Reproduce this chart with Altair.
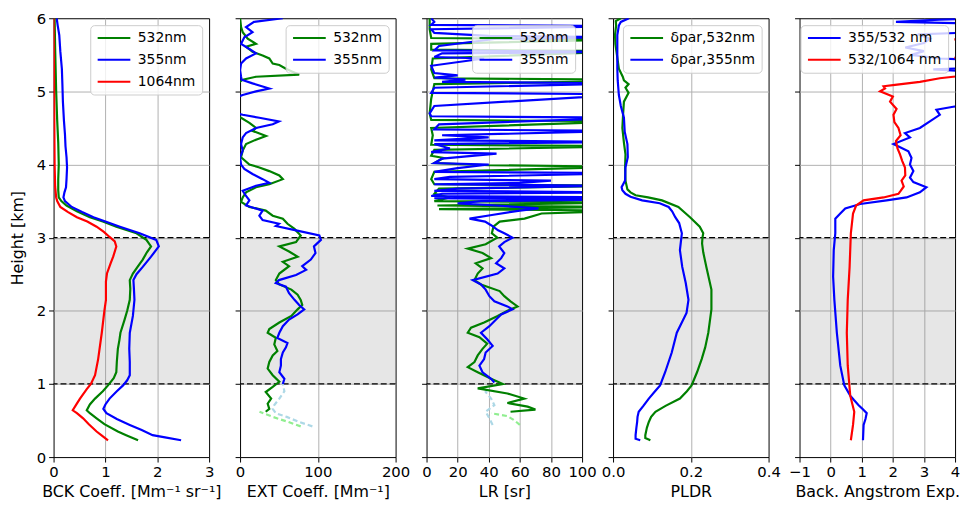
import altair as alt
import pandas as pd

FONT = "DejaVu Sans"

# ---------------- Panel 1: backscatter coefficient ----------------
bck532_h = [0.23, 0.30, 0.35, 0.45, 0.53, 0.60, 0.64, 0.72, 0.80, 0.90, 0.98, 1.08, 1.16, 1.30, 1.48, 1.60, 1.70, 1.88, 2.00, 2.15, 2.30, 2.42, 2.51, 2.60, 2.70, 2.80, 2.88, 2.97, 3.06, 3.15, 3.22, 3.28, 3.36, 3.44, 3.50, 3.55, 3.65, 3.80, 4.00, 4.30, 4.60, 5.00, 5.30, 5.60, 6.00]
bck532_v = [1.63, 1.40, 1.24, 0.98, 0.83, 0.70, 0.64, 0.70, 0.80, 0.95, 1.05, 1.16, 1.21, 1.22, 1.24, 1.27, 1.29, 1.37, 1.42, 1.47, 1.48, 1.47, 1.53, 1.62, 1.72, 1.80, 1.88, 1.79, 1.60, 1.21, 0.95, 0.70, 0.45, 0.25, 0.15, 0.10, 0.09, 0.09, 0.10, 0.09, 0.07, 0.05, 0.04, 0.03, 0.02]
bck355_h = [0.23, 0.27, 0.30, 0.37, 0.44, 0.52, 0.60, 0.66, 0.72, 0.80, 0.90, 0.98, 1.05, 1.12, 1.30, 1.48, 1.70, 1.93, 2.15, 2.30, 2.42, 2.50, 2.60, 2.74, 2.88, 2.97, 3.06, 3.15, 3.22, 3.28, 3.35, 3.42, 3.50, 3.55, 3.62, 3.69, 3.80, 3.96, 4.10, 4.25, 4.41, 4.60, 4.86, 5.10, 5.31, 5.55, 5.77, 5.90, 6.00]
bck355_v = [2.46, 2.15, 1.91, 1.70, 1.47, 1.22, 1.02, 0.96, 1.00, 1.08, 1.22, 1.34, 1.42, 1.47, 1.47, 1.46, 1.47, 1.53, 1.56, 1.55, 1.54, 1.60, 1.72, 1.88, 2.03, 1.98, 1.66, 1.28, 1.00, 0.77, 0.55, 0.35, 0.22, 0.19, 0.21, 0.24, 0.25, 0.26, 0.25, 0.23, 0.22, 0.20, 0.18, 0.17, 0.16, 0.13, 0.11, 0.08, 0.06]
bck1064_h = [0.23, 0.30, 0.35, 0.45, 0.53, 0.60, 0.64, 0.72, 0.80, 0.93, 1.00, 1.12, 1.34, 1.70, 2.00, 2.15, 2.40, 2.51, 2.65, 2.74, 2.88, 2.95, 3.01, 3.08, 3.15, 3.22, 3.28, 3.35, 3.42, 3.50, 3.55, 3.70, 4.00, 5.00, 6.00]
bck1064_v = [1.05, 0.92, 0.83, 0.68, 0.57, 0.45, 0.37, 0.44, 0.51, 0.64, 0.72, 0.80, 0.86, 0.93, 0.98, 1.01, 1.01, 1.03, 1.10, 1.15, 1.21, 1.18, 1.08, 0.97, 0.83, 0.65, 0.45, 0.28, 0.13, 0.07, 0.05, 0.03, 0.02, 0.01, 0.00]

# ---------------- Panel 2: extinction coefficient ----------------
ext532_h = [0.62, 0.66, 0.73, 0.80, 0.89, 0.96, 1.03, 1.12, 1.21, 1.30, 1.39, 1.45, 1.54, 1.63, 1.70, 1.75, 1.84, 1.93, 2.02, 2.08, 2.15, 2.22, 2.29, 2.36, 2.42, 2.51, 2.61, 2.67, 2.74, 2.81, 2.88, 2.94, 3.03, 3.12, 3.19, 3.26, 3.30, 3.37, 3.42, 3.49, 3.55, 3.62, 3.69, 3.73, 3.80, 3.85, 3.91, 3.96, 4.00, 4.10, 4.19, 4.28, 4.34, 4.39, 4.46, 4.50, 4.57, 4.64, 4.68, 5.08, 5.11, 5.16, 5.20, 5.23, 5.27, 5.31, 5.36, 5.38, 5.45, 5.49, 5.54, 5.61, 5.65, 5.72, 5.81, 5.88, 6.00]
ext532_v = [33, 37.6, 35.5, 40, 33, 42, 50.5, 42, 35.5, 37.6, 42, 48, 44, 46, 35.5, 37.6, 50.5, 66, 74, 80, 78, 74, 66, 50.5, 46, 50.5, 63, 55, 74, 63, 50.5, 72, 78, 70, 61, 55, 42, 33, 12, 1.3, 3.4, 7.7, 20.5, 37.6, 55, 50.5, 37.6, 24.8, 12, 1.3, 3.4, 7.7, 20.5, 33.3, 16, 20.5, 12, 1.3, -10, -10, -3, 3.4, 20.5, 76, 67.5, 59, 50.5, 42, 37.6, 29, 16, 7.7, 20.5, 9.8, 3.4, 1.3, 0]
ext355_h = [1.00, 1.07, 1.16, 1.25, 1.34, 1.43, 1.50, 1.56, 1.63, 1.70, 1.79, 1.88, 1.95, 2.02, 2.08, 2.15, 2.24, 2.33, 2.38, 2.42, 2.49, 2.56, 2.61, 2.70, 2.79, 2.88, 2.97, 3.03, 3.10, 3.16, 3.19, 3.24, 3.30, 3.37, 3.44, 3.51, 3.57, 3.64, 3.71, 3.75, 3.80, 3.87, 3.94, 4.00, 4.10, 4.19, 4.28, 4.37, 4.43, 4.50, 4.55, 4.59, 4.64, 4.68, 4.72, 4.90, 4.95, 5.00, 5.04, 5.11, 5.16, 5.20, 5.29, 5.38, 5.45, 5.52, 5.58, 5.65, 5.74, 5.81, 5.88, 5.95, 6.00]
ext355_v = [55, 57, 50.5, 52.5, 52.5, 55, 59, 61, 48, 50.5, 55, 63, 74, 82.5, 76, 70, 63, 59, 46, 50, 72, 85, 80, 91, 97, 95, 104, 102, 72, 46, 50, 29, 24.8, 29, 7.7, 12, 7.7, 3.4, 20.5, 37.6, 29, 16, 5.5, 1.3, 0, 3.4, 1.3, 3.4, 7.7, 20.5, 42, 50, 24.8, 3.4, -10, -10, 3.4, 20.5, 37.6, 16, 2, 1.3, 0, 1.3, 7.7, 20.5, 12, 1.3, 5.5, 16, 7.7, 18, 55]
ext532_low_h = [0.42, 0.48, 0.55, 0.62]
ext532_low_v = [78, 62, 42, 25]
ext355_low_h = [0.42, 0.48, 0.55, 0.60, 0.66, 0.71, 0.80, 0.90, 1.00]
ext355_low_v = [93, 76, 60, 46, 42, 44, 50.5, 57, 55]

# ---------------- Panel 3: lidar ratio ----------------
lr532_h = [0.62, 0.65, 0.69, 0.74, 0.80, 0.87, 0.94, 1.00, 1.07, 1.16, 1.23, 1.30, 1.39, 1.48, 1.55, 1.64, 1.70, 1.77, 1.84, 1.93, 2.00, 2.06, 2.13, 2.20, 2.27, 2.36, 2.42, 2.51, 2.58, 2.65, 2.72, 2.79, 2.85, 2.91, 3.00, 3.06, 3.15, 3.22, 3.26, 3.33, 3.37, 3.39, 3.42, 3.44, 3.48, 3.50, 3.55, 3.60, 3.67, 3.71, 3.73, 3.80, 3.90, 3.97, 3.99, 4.02, 4.09, 4.12, 4.20, 4.25, 4.27, 4.40, 4.50, 4.59, 4.61, 4.70, 4.90, 5.10, 5.14, 5.16, 5.18, 5.30, 5.45, 5.55, 5.57, 5.65, 5.71, 5.73, 5.85, 6.00]
lr532_v = [54, 70, 65, 52, 62.8, 52, 32.9, 49, 41.5, 32.9, 26.5, 30.8, 32.9, 36, 39, 34, 26.5, 28.6, 37, 45.7, 52, 58.5, 54, 50, 47, 35, 30.8, 32.9, 36, 31.6, 41.5, 36, 26.5, 38, 45.5, 42, 43, 47, 63, 74, 130, 8, 130, 7, 130, 5, 15, 5, 8, 130, 5, 3, 5, 130, 40, 5, 11, 3, 5, 130, 3, 4, 3, 130, 3, 2, 3, 5, 130, 130, 5, 3, 4, 130, 3, 3, 130, 3, 2, 2]
lr355_h = [1.02, 1.07, 1.16, 1.25, 1.34, 1.43, 1.52, 1.61, 1.70, 1.79, 1.88, 1.95, 2.02, 2.06, 2.13, 2.20, 2.29, 2.36, 2.42, 2.51, 2.58, 2.65, 2.72, 2.79, 2.88, 2.94, 3.00, 3.06, 3.10, 3.17, 3.22, 3.26, 3.31, 3.37, 3.40, 3.44, 3.47, 3.50, 3.52, 3.54, 3.55, 3.57, 3.60, 3.62, 3.64, 3.67, 3.71, 3.73, 3.75, 3.78, 3.80, 3.83, 3.88, 3.90, 3.95, 4.00, 4.02, 4.08, 4.15, 4.17, 4.22, 4.28, 4.31, 4.33, 4.37, 4.40, 4.46, 4.48, 4.55, 4.64, 4.66, 4.70, 4.80, 4.96, 4.98, 5.05, 5.11, 5.13, 5.16, 5.19, 5.22, 5.25, 5.35, 5.45, 5.47, 5.52, 5.54, 5.56, 5.62, 5.72, 5.74, 5.76, 5.80, 5.85, 5.89, 5.91, 5.95, 6.00]
lr355_v = [43.6, 41.5, 36, 34, 37, 38, 42.5, 39, 35, 40.4, 44.7, 48, 55.3, 52, 43.6, 40.4, 38, 35, 29.7, 45.7, 50, 44.7, 48, 50, 46.7, 50, 55.3, 50, 46, 41.5, 37.6, 27.6, 42, 60, 72, 45, 20, 35, 120, 5, 130, 3, 10, 130, 5, 20, 110, 5, 60, 80, 5, 15, 130, 5, 20, 40, 5, 10, 45, 3, 15, 5, 130, 5, 40, 10, 130, 5, 8, 130, 3, 2, 5, 130, 3, 5, 130, 10, 25, 5, 20, 5, 3, 37, 5, 10, 130, 5, 8, 45, 130, 40, 5, 3, 130, 3, 5, 3]
lr532_low_h = [0.44, 0.51, 0.56, 0.60]
lr532_low_v = [60, 56, 52, 41.5]
lr355_low_h = [0.44, 0.53, 0.62, 0.71, 0.80, 0.89, 0.98]
lr355_low_v = [42.5, 40.4, 38, 43.6, 41.5, 38, 40.4]

# ---------------- Panel 4: particle linear depolarization ratio ----------------
pldr532_h = [0.23, 0.26, 0.30, 0.40, 0.48, 0.55, 0.62, 0.70, 0.80, 0.90, 0.98, 1.16, 1.34, 1.50, 1.70, 2.02, 2.29, 2.60, 2.80, 2.92, 3.00, 3.06, 3.15, 3.28, 3.42, 3.51, 3.55, 3.58, 3.62, 3.66, 3.78, 3.96, 4.14, 4.30, 4.50, 4.70, 4.86, 4.98, 5.05, 5.10, 5.15, 5.20, 5.31, 5.50, 5.65, 5.77, 5.90, 5.96, 6.00]
pldr532_v = [0.096, 0.083, 0.083, 0.087, 0.092, 0.098, 0.109, 0.135, 0.172, 0.190, 0.202, 0.216, 0.228, 0.237, 0.245, 0.253, 0.253, 0.240, 0.232, 0.229, 0.230, 0.232, 0.223, 0.198, 0.168, 0.126, 0.090, 0.058, 0.045, 0.037, 0.032, 0.031, 0.032, 0.028, 0.024, 0.026, 0.028, 0.040, 0.032, 0.040, 0.028, 0.025, 0.015, 0.010, 0.006, 0.005, 0.008, 0.007, 0.020]
pldr355_h = [0.23, 0.25, 0.30, 0.40, 0.48, 0.55, 0.62, 0.70, 0.80, 0.90, 0.98, 1.16, 1.43, 1.70, 1.97, 2.15, 2.38, 2.60, 2.83, 3.06, 3.20, 3.28, 3.36, 3.42, 3.47, 3.51, 3.56, 3.60, 3.65, 3.69, 3.78, 3.96, 4.10, 4.28, 4.45, 4.64, 4.80, 4.95, 5.15, 5.31, 5.55, 5.77, 5.90, 5.95, 6.00]
pldr355_v = [0.070, 0.058, 0.058, 0.060, 0.062, 0.063, 0.066, 0.078, 0.092, 0.108, 0.121, 0.134, 0.151, 0.164, 0.189, 0.194, 0.187, 0.178, 0.172, 0.177, 0.170, 0.160, 0.152, 0.143, 0.120, 0.075, 0.045, 0.032, 0.024, 0.022, 0.031, 0.032, 0.038, 0.037, 0.030, 0.028, 0.020, 0.015, 0.012, 0.011, 0.011, 0.011, 0.015, 0.020, 0.041]

# ---------------- Panel 5: backscatter Angstrom exponent ----------------
ae355_h = [0.23, 0.44, 0.52, 0.60, 0.66, 0.71, 0.78, 0.84, 0.98, 1.25, 1.70, 2.15, 2.47, 2.83, 3.06, 3.26, 3.33, 3.40, 3.46, 3.51, 3.55, 3.62, 3.69, 3.76, 3.82, 3.91, 4.00, 4.09, 4.18, 4.28, 4.37, 4.43, 4.50, 4.59, 4.68, 4.75, 4.79, 4.82, 5.00, 5.25, 5.30, 5.33, 5.42, 5.45, 5.50, 5.55, 5.60, 5.66, 5.72, 5.78, 5.82, 5.92, 5.95, 5.98, 6.00]
ae355_v = [1.04, 1.06, 1.12, 1.16, 1.02, 0.90, 0.75, 0.63, 0.44, 0.31, 0.20, 0.12, 0.08, 0.10, 0.15, 0.15, 0.31, 0.47, 0.95, 1.80, 2.44, 2.87, 3.08, 2.66, 2.55, 2.66, 2.55, 2.60, 2.50, 2.02, 2.55, 2.39, 2.87, 3.19, 3.51, 3.40, 3.94, 4.6, 5.5, 5.5, 3.3, 5.5, 5.5, 3.5, 2.6, 3.0, 2.4, 3.0, 3.2, 2.8, 5.5, 5.5, 2.1, 3.5, 5.0]
ae532_h = [0.23, 0.44, 0.62, 0.84, 1.25, 1.70, 2.15, 2.60, 3.06, 3.33, 3.44, 3.51, 3.55, 3.60, 3.64, 3.70, 3.78, 3.85, 3.96, 4.05, 4.14, 4.22, 4.32, 4.40, 4.50, 4.58, 4.68, 4.76, 4.86, 4.93, 5.00, 5.04, 5.07, 5.09, 5.13, 5.18, 5.20, 5.22, 5.44, 5.46, 5.48, 5.69, 5.71, 5.73, 6.00]
ae532_v = [0.65, 0.72, 0.76, 0.63, 0.55, 0.52, 0.55, 0.61, 0.65, 0.72, 0.82, 1.06, 1.70, 2.18, 2.25, 2.35, 2.28, 2.40, 2.39, 2.30, 2.23, 2.15, 2.10, 2.25, 2.18, 2.05, 2.02, 2.12, 1.91, 2.00, 1.59, 1.75, 1.70, 2.07, 2.87, 3.51, 3.94, 4.5, 4.5, 3.98, 4.5, 4.5, 3.98, 4.5, 4.5]

layer_bottom = [1]
layer_top = [3]
height_ticks = [0, 1, 2, 3, 4, 5, 6]


def frame(series):
    rows = []
    for name, hs, vs in series:
        assert len(hs) == len(vs), name
        for i, (h, v) in enumerate(zip(hs, vs)):
            rows.append({"s": name, "h": h, "v": v, "i": i})
    return pd.DataFrame(rows)


def make_panel(series, colors, xdom, xticks, xtitle, fmt, first, low=()):
    xscale = alt.Scale(domain=xdom, nice=False, zero=False)
    yscale = alt.Scale(domain=[0, 6], nice=False, zero=False)
    xaxis = alt.Axis(values=xticks, format=fmt, title=xtitle,
                     gridOpacity={"condition": {"test": f"datum.value <= {xdom[0]} || datum.value >= {xdom[1]}", "value": 0}, "value": 1})
    yaxis = alt.Axis(values=height_ticks, format="d", labels=first,
                     title="Height [km]" if first else None, titlePadding=11,
                     gridOpacity={"condition": {"test": "datum.value <= 0 || datum.value >= 6", "value": 0}, "value": 1})

    def X(f):
        return alt.X(f, scale=xscale, axis=xaxis)

    def Y(f):
        return alt.Y(f, scale=yscale, axis=yaxis)

    band = alt.Chart(pd.DataFrame({"x": [xdom[0]], "x2": [xdom[1]], "y": layer_bottom, "y2": layer_top})).mark_rect(
        color="gray", opacity=0.2
    ).encode(x=X("x:Q"), x2="x2:Q", y=Y("y:Q"), y2="y2:Q")
    rules = alt.Chart(pd.DataFrame({"y": layer_bottom + layer_top})).mark_rule(
        color="black", strokeDash=[6, 3], strokeWidth=1.3
    ).encode(y=Y("y:Q"))

    layers = [band, rules]
    for name, hs, vs, col in low:
        layers.append(
            alt.Chart(frame([(name, hs, vs)])).mark_line(
                color=col, strokeDash=[5, 3], strokeWidth=2.2, clip=True
            ).encode(x=X("v:Q"), y=Y("h:Q"), order="i:Q")
        )

    names = [s[0] for s in series]
    main = alt.Chart(frame(series)).mark_line(strokeWidth=2.2, clip=True).encode(
        x=X("v:Q"),
        y=Y("h:Q"),
        color=alt.Color(
            "s:N",
            scale=alt.Scale(domain=names, range=colors),
            legend=alt.Legend(
                title=None, orient="top-right", offset=7,
                fillColor="rgba(255,255,255,0.8)", strokeColor="#cccccc",
                cornerRadius=4, padding=6,
                symbolType="M-1,0H5", symbolSize=121, symbolStrokeWidth=2,
                labelFontSize=14, labelOffset=28, rowPadding=8,
                labelFont=FONT, labelColor="black",
            ),
        ),
        order="i:Q",
    )
    layers.append(main)
    return alt.layer(*layers).properties(width=157, height=443)


p1 = make_panel(
    [("532nm", bck532_h, bck532_v), ("355nm", bck355_h, bck355_v), ("1064nm", bck1064_h, bck1064_v)],
    ["green", "blue", "red"], [0, 3], [0, 1, 2, 3], "BCK Coeff. [Mm⁻¹ sr⁻¹]", "d", True,
)
p2 = make_panel(
    [("532nm", ext532_h, ext532_v), ("355nm", ext355_h, ext355_v)],
    ["green", "blue"], [0, 200], [0, 100, 200], "EXT Coeff. [Mm⁻¹]", "d", False,
    low=[("532low", ext532_low_h, ext532_low_v, "lightgreen"), ("355low", ext355_low_h, ext355_low_v, "lightblue")],
)
p3 = make_panel(
    [("532nm", lr532_h, lr532_v), ("355nm", lr355_h, lr355_v)],
    ["green", "blue"], [0, 100], [0, 20, 40, 60, 80, 100], "LR [sr]", "d", False,
    low=[("532low", lr532_low_h, lr532_low_v, "lightgreen"), ("355low", lr355_low_h, lr355_low_v, "lightblue")],
)
p4 = make_panel(
    [("δpar,532nm", pldr532_h, pldr532_v), ("δpar,355nm", pldr355_h, pldr355_v)],
    ["green", "blue"], [0, 0.4], [0, 0.2, 0.4], "PLDR", ".1f", False,
)
p5 = make_panel(
    [("355/532 nm", ae355_h, ae355_v), ("532/1064 nm", ae532_h, ae532_v)],
    ["blue", "red"], [-1, 4], [-1, 0, 1, 2, 3, 4], "Back. Angstrom Exp.", "d", False,
)

chart = alt.hconcat(p1, p2, p3, p4, p5, spacing=31.25, bounds="flush").resolve_scale(
    color="independent", x="independent", y="independent"
).properties(
    padding={"left": 0, "top": 0, "right": 0, "bottom": 0}
).configure(
    font=FONT
).configure_view(
    stroke="black", strokeWidth=1
).configure_axis(
    grid=True, gridColor="#b0b0b0", gridWidth=1, domain=False,
    tickColor="black", tickSize=5, tickWidth=1,
    labelFontSize=15, labelColor="black", labelPadding=3, labelFlush=False, labelOverlap=False,
    titleFontSize=16, titleFontWeight="normal", titleColor="black", titlePadding=4,
)

chart.save("out.html", embed_options={"renderer": "svg", "actions": False})
